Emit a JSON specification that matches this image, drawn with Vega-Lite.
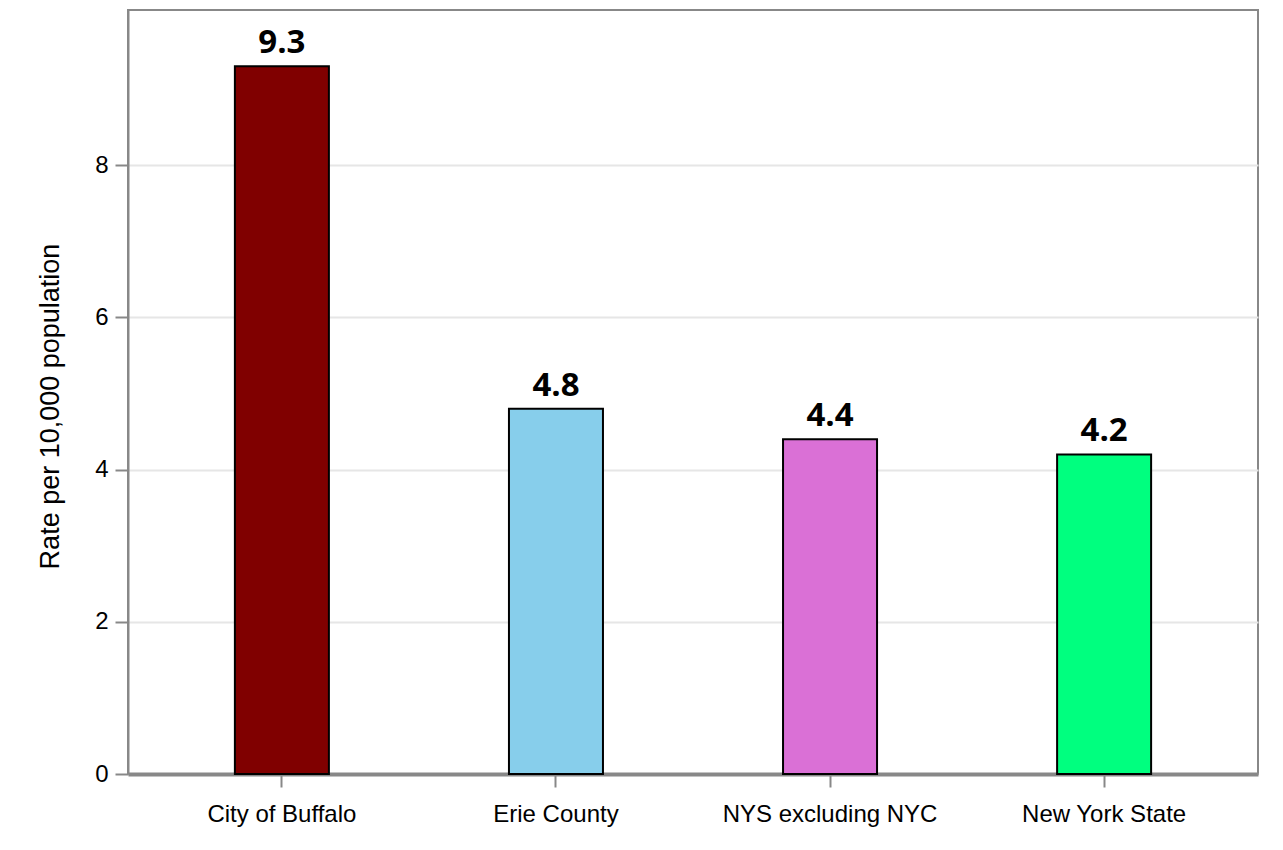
{
  "$schema": "https://vega.github.io/schema/vega-lite/v6.json",
  "autosize": {"type": "none"},
  "width": 1130,
  "height": 764,
  "padding": {"left": 128, "top": 10, "right": 25, "bottom": 76},
  "background": "white",
  "data": {
    "values": [
      {"area": "City of Buffalo", "rate": 9.3},
      {"area": "Erie County", "rate": 4.8},
      {"area": "NYS excluding NYC", "rate": 4.4},
      {"area": "New York State", "rate": 4.2}
    ]
  },
  "encoding": {
    "x": {
      "field": "area",
      "type": "nominal",
      "sort": null,
      "scale": {"paddingInner": 0.657, "paddingOuter": 0.39},
      "axis": {
        "title": null,
        "labelAngle": 0,
        "labelFont": "Liberation Sans",
        "labelFontSize": 24,
        "labelLimit": 0,
        "labelColor": "#000000",
        "labelPadding": 15,
        "tickSize": 13,
        "tickWidth": 2,
        "tickColor": "#888888",
        "domainColor": "#888888",
        "domainWidth": 4,
        "grid": false
      }
    },
    "y": {
      "field": "rate",
      "type": "quantitative",
      "scale": {"domain": [0, 10.04], "nice": false},
      "axis": {
        "title": "Rate per 10,000 population",
        "titleFont": "Liberation Sans",
        "titleFontSize": 27,
        "titleFontWeight": "normal",
        "titleColor": "#000000",
        "titlePadding": 30,
        "titleY": 396,
        "values": [0, 2, 4, 6, 8],
        "labelFont": "Liberation Sans",
        "labelFontSize": 24,
        "labelColor": "#000000",
        "labelPadding": 7,
        "tickSize": 13,
        "tickWidth": 2,
        "tickColor": "#888888",
        "domainColor": "#888888",
        "domainWidth": 2,
        "grid": true,
        "gridColor": "#e6e6e6",
        "gridWidth": 2
      }
    }
  },
  "layer": [
    {
      "mark": {"type": "bar", "stroke": "#000000", "strokeWidth": 2},
      "encoding": {
        "color": {
          "field": "area",
          "type": "nominal",
          "sort": null,
          "scale": {
            "domain": ["City of Buffalo", "Erie County", "NYS excluding NYC", "New York State"],
            "range": ["#800000", "#87CEEB", "#DA70D6", "#00FF7F"]
          },
          "legend": null
        }
      }
    },
    {
      "mark": {
        "type": "text",
        "font": "Open Sans",
        "fontSize": 33,
        "fontWeight": "bold",
        "color": "#000000",
        "baseline": "alphabetic",
        "dy": -13
      },
      "encoding": {
        "text": {"field": "rate", "type": "quantitative", "format": ".1f"}
      }
    }
  ],
  "config": {
    "view": {"stroke": "#888888", "strokeWidth": 2}
  }
}
